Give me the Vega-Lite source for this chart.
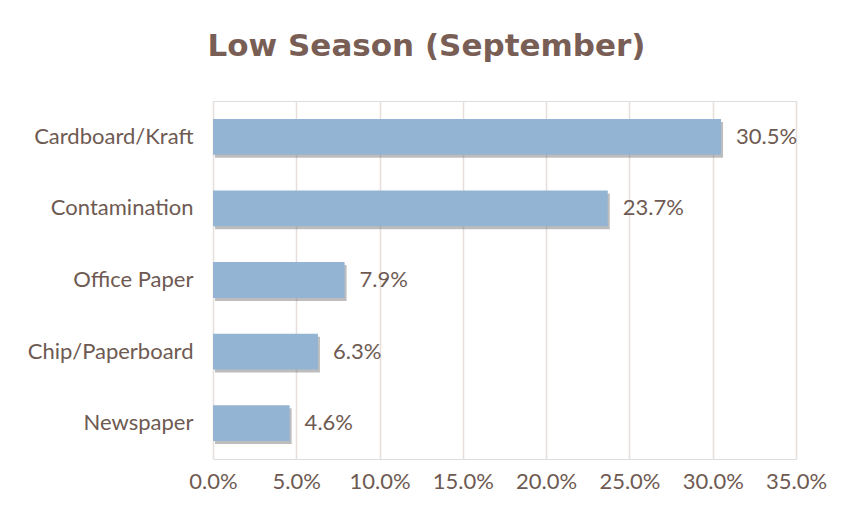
{
  "$schema": "https://vega.github.io/schema/vega-lite/v6.json",
  "autosize": "none",
  "width": 583,
  "height": 358,
  "padding": {"left": 213, "top": 101, "right": 58, "bottom": 57},
  "background": "white",
  "title": {
    "text": "Low Season (September)",
    "font": "DejaVu Sans",
    "fontSize": 31,
    "fontWeight": "bold",
    "color": "#785e55",
    "anchor": "middle",
    "dx": -78,
    "offset": 38
  },
  "data": {
    "values": [
      {"category": "Cardboard/Kraft", "value": 0.305},
      {"category": "Contamination", "value": 0.237},
      {"category": "Office Paper", "value": 0.079},
      {"category": "Chip/Paperboard", "value": 0.063},
      {"category": "Newspaper", "value": 0.046}
    ]
  },
  "encoding": {
    "y": {
      "field": "category",
      "type": "nominal",
      "sort": null,
      "scale": {"paddingInner": 0.5, "paddingOuter": 0.25},
      "axis": {
        "title": null,
        "domain": false,
        "ticks": false,
        "labelPadding": 20,
        "labelFont": "Lato",
        "labelFontSize": 22,
        "labelColor": "#6e5a52"
      }
    },
    "x": {
      "field": "value",
      "type": "quantitative",
      "scale": {"domain": [0, 0.35], "nice": false},
      "axis": {
        "title": null,
        "format": ".1%",
        "values": [0, 0.05, 0.1, 0.15, 0.2, 0.25, 0.3, 0.35],
        "domain": false,
        "ticks": false,
        "grid": true,
        "gridColor": "#e6dfdc",
        "gridWidth": 1.5,
        "labelFlush": false,
        "labelPadding": 12,
        "labelFont": "Lato",
        "labelFontSize": 22,
        "labelColor": "#6e5a52"
      }
    }
  },
  "layer": [
    {
      "mark": {"type": "bar", "color": "#5a5a5a", "opacity": 0.4, "xOffset": 2, "yOffset": 3}
    },
    {
      "mark": {"type": "bar", "color": "#93b4d3"}
    },
    {
      "mark": {"type": "text", "align": "left", "dx": 15, "font": "Lato", "fontSize": 22, "color": "#6e5a52"},
      "encoding": {
        "text": {"field": "value", "type": "quantitative", "format": ".1%"}
      }
    }
  ]
}
